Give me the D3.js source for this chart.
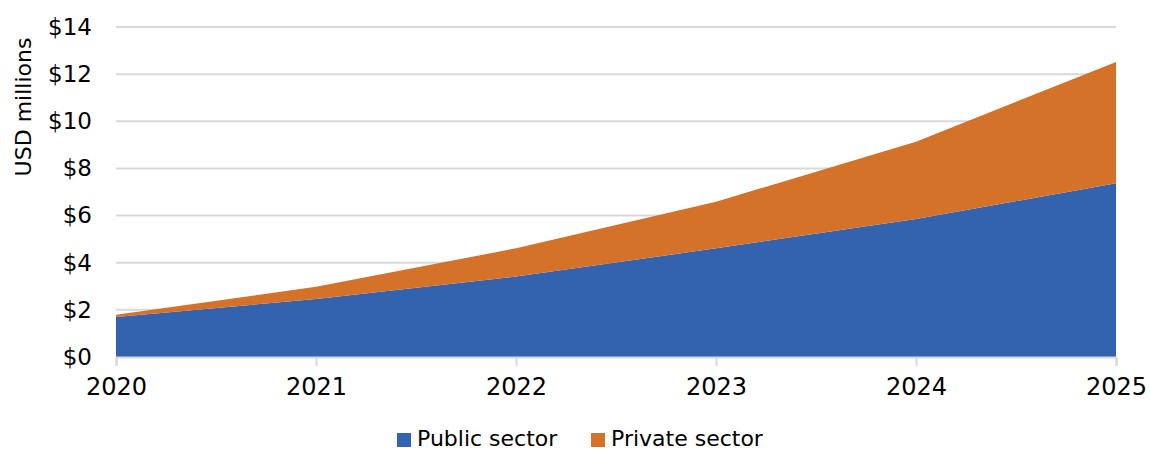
<!DOCTYPE html>
<html>
<head>
<meta charset="utf-8">
<script src="https://cdn.jsdelivr.net/npm/d3@7"></script>
<style>
  html, body { margin: 0; padding: 0; background: #ffffff; }
  svg { display: block; }
  text { font-family: "DejaVu Sans", sans-serif; fill: #000; }
</style>
</head>
<body>
<svg id="chart" width="1150" height="452"></svg>
<script>
// Funding by year, USD millions
const years = [2020, 2021, 2022, 2023, 2024, 2025];
const publicSector = [1.70, 2.46, 3.41, 4.61, 5.85, 7.37];
const privateSector = [0.09, 0.52, 1.20, 1.98, 3.28, 5.15];
const seriesNames = ["Public sector", "Private sector"];
const seriesColors = ["#3363AE", "#D37228"];
const yTicks = [0, 2, 4, 6, 8, 10, 12, 14];

const svg = d3.select("#chart");
const margin = { left: 116, right: 34, top: 27, bottom: 95 };
const W = 1150, H = 452;

const x = d3.scaleLinear()
  .domain([years[0], years[years.length - 1]])
  .range([margin.left, W - margin.right]);
const y = d3.scaleLinear()
  .domain([0, 14])
  .range([H - margin.bottom, margin.top]);

// horizontal gridlines
svg.append("g")
  .selectAll("line")
  .data(yTicks)
  .join("line")
  .attr("x1", x.range()[0])
  .attr("x2", x.range()[1])
  .attr("y1", d => y(d))
  .attr("y2", d => y(d))
  .attr("stroke", "#d9d9d9")
  .attr("stroke-width", 2);

// stacked areas
const table = years.map((yr, i) => ({
  year: yr,
  "Public sector": publicSector[i],
  "Private sector": privateSector[i]
}));
const stacked = d3.stack().keys(seriesNames)(table);
const area = d3.area()
  .x(d => x(d.data.year))
  .y0(d => y(d[0]))
  .y1(d => y(d[1]));

svg.append("g")
  .selectAll("path")
  .data(stacked)
  .join("path")
  .attr("d", area)
  .attr("fill", (d, i) => seriesColors[i]);

// x axis
const xAxis = d3.axisBottom(x)
  .tickValues(years)
  .tickFormat(d3.format("d"))
  .tickSize(9)
  .tickPadding(12);
const gx = svg.append("g")
  .attr("transform", `translate(0,${y(0)})`)
  .call(xAxis);
gx.select(".domain").attr("stroke", "#d9d9d9").attr("stroke-width", 2);
gx.selectAll(".tick line").attr("stroke", "#d9d9d9").attr("stroke-width", 2);
gx.selectAll(".tick text")
  .attr("font-size", 24)
  .attr("font-family", "DejaVu Sans, sans-serif")
  .attr("fill", "#000");

// y axis labels
const yAxis = d3.axisLeft(y)
  .tickValues(yTicks)
  .tickFormat(d => "$" + d)
  .tickSize(0)
  .tickPadding(24);
const gy = svg.append("g")
  .attr("transform", `translate(${margin.left},0)`)
  .call(yAxis);
gy.select(".domain").remove();
gy.selectAll(".tick text")
  .attr("font-size", 23)
  .attr("font-family", "DejaVu Sans, sans-serif")
  .attr("fill", "#000");

// y axis title
svg.append("text")
  .attr("transform", `translate(31,${107}) rotate(-90)`)
  .attr("text-anchor", "middle")
  .attr("font-size", 22)
  .text("USD millions");

// legend
const legendItems = [
  { name: seriesNames[0], color: seriesColors[0], x: 397 },
  { name: seriesNames[1], color: seriesColors[1], x: 591 }
];
const lg = svg.append("g");
legendItems.forEach(it => {
  lg.append("rect")
    .attr("x", it.x)
    .attr("y", 433)
    .attr("width", 14)
    .attr("height", 14)
    .attr("fill", it.color);
  lg.append("text")
    .attr("x", it.x + 20)
    .attr("y", 446)
    .attr("font-size", 22)
    .text(it.name);
});
</script>
</body>
</html>
